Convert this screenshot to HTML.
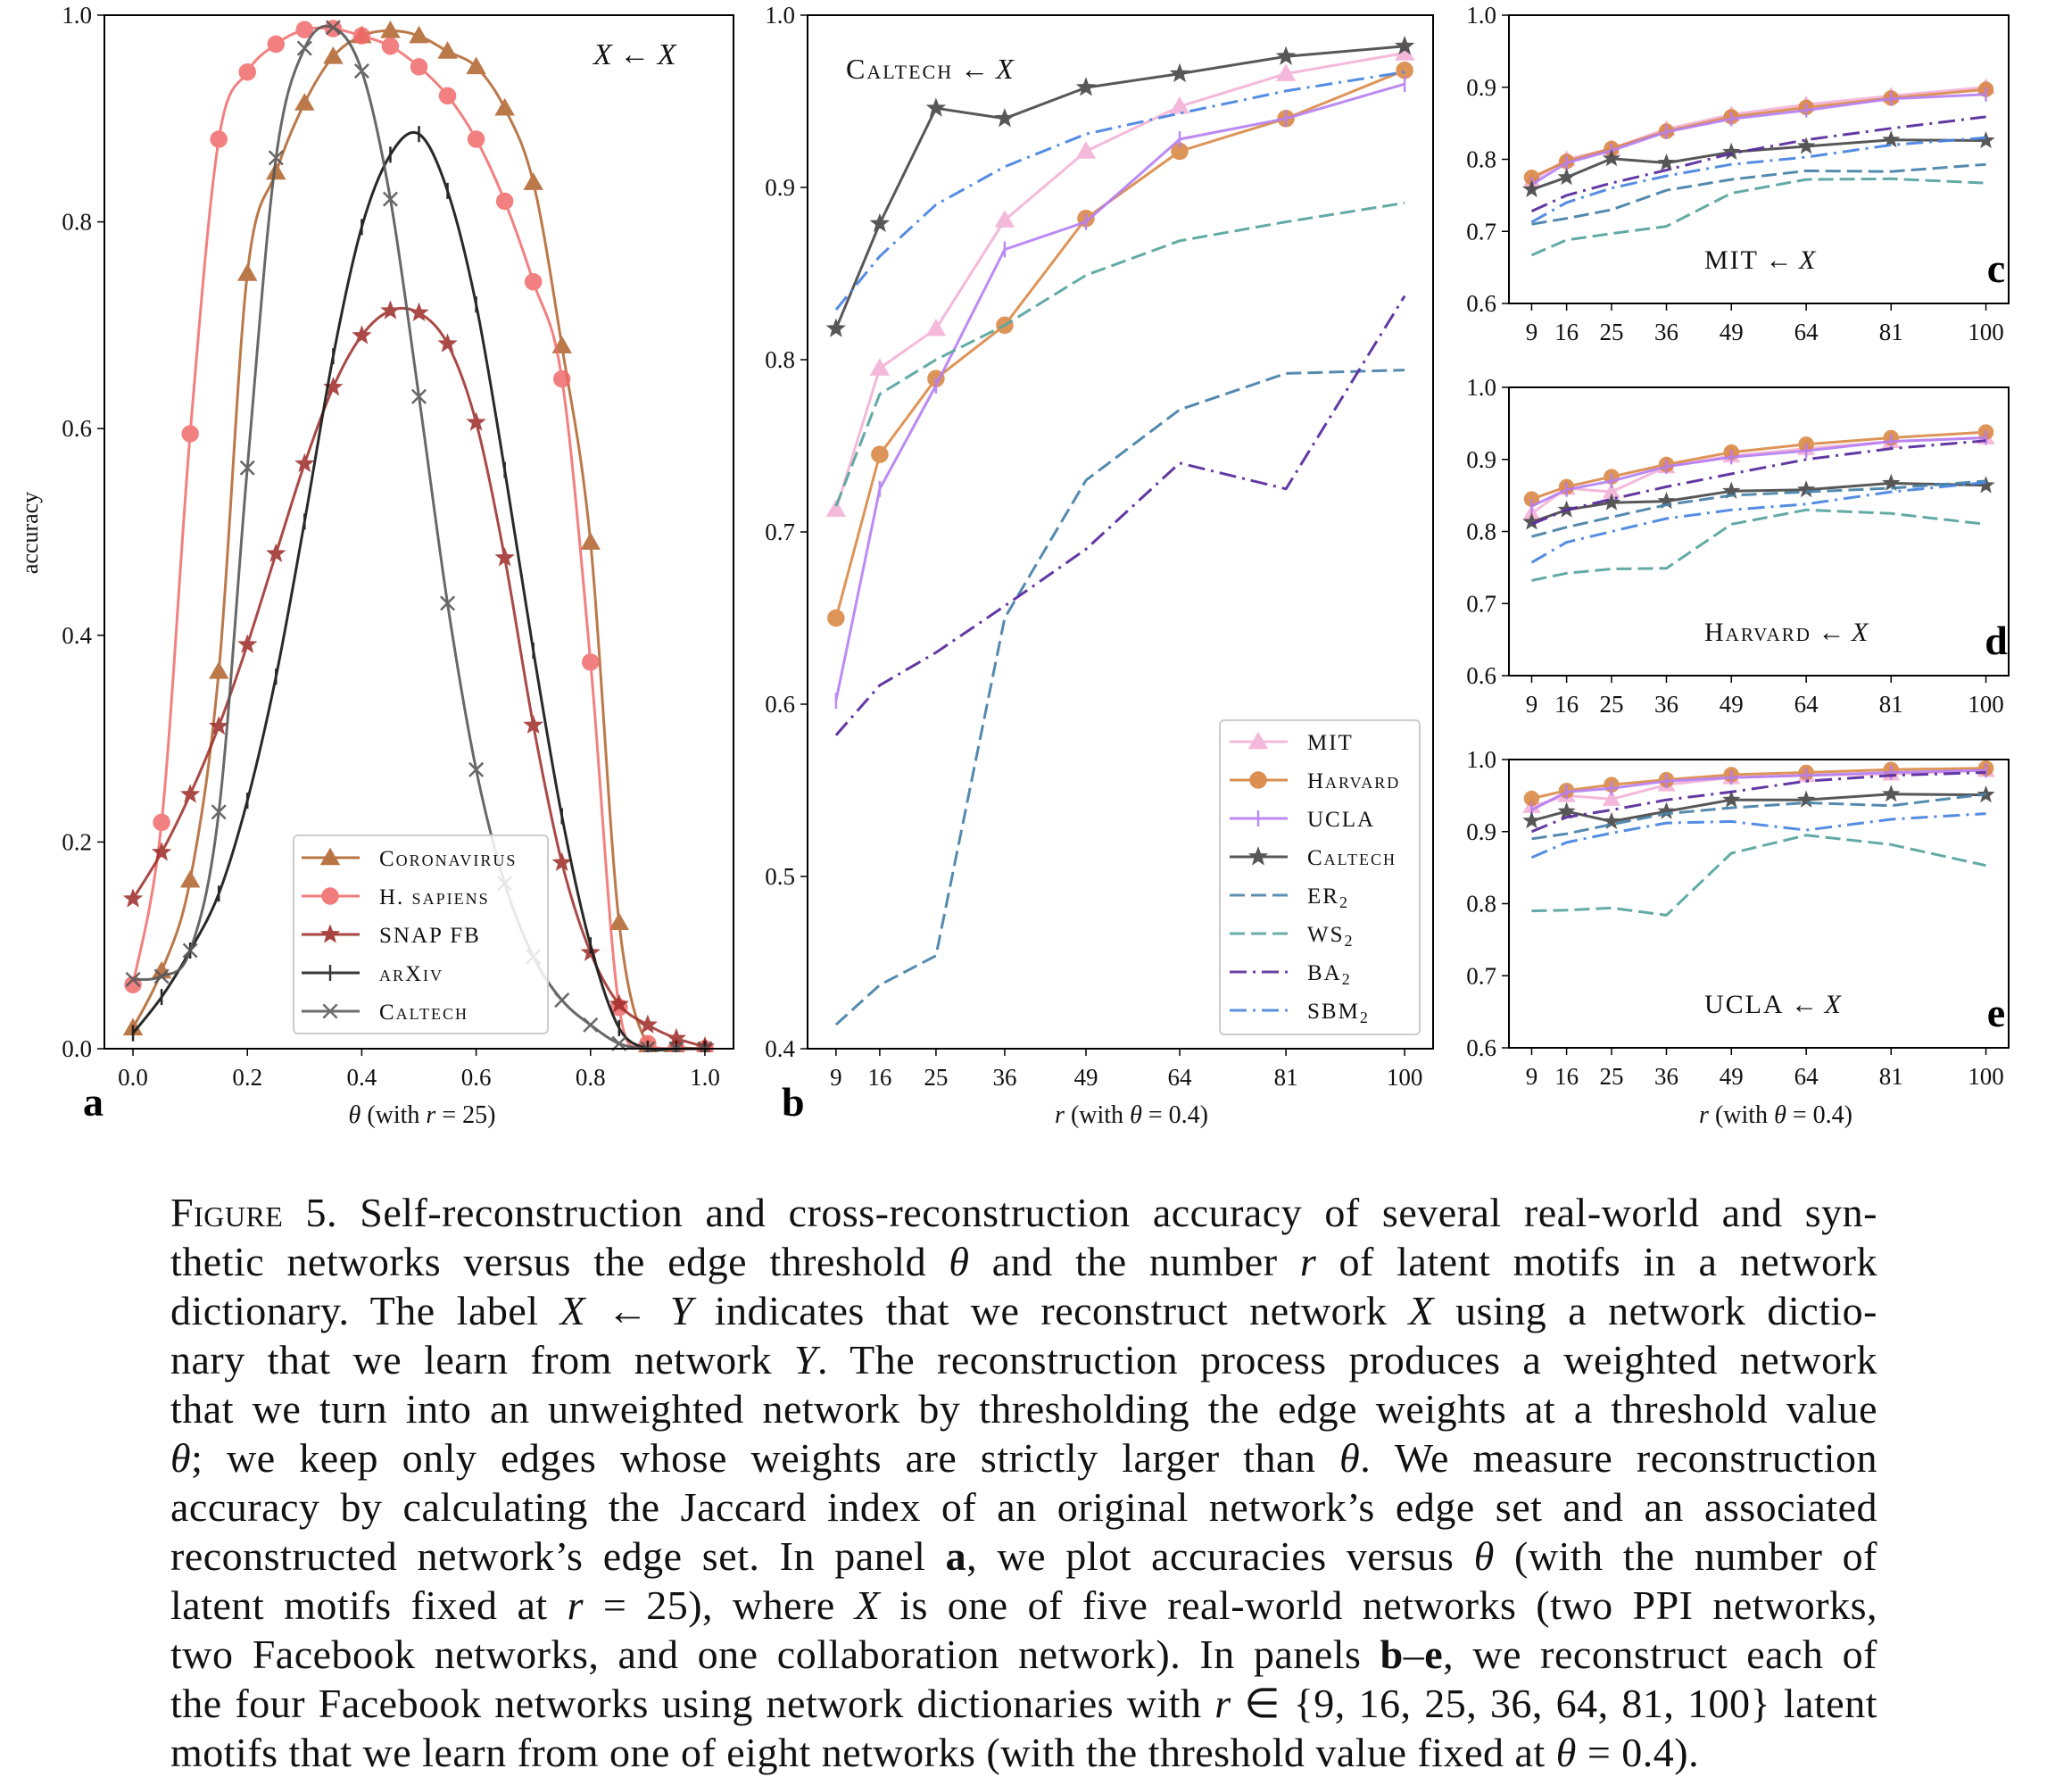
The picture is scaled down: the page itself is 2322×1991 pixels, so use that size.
<!DOCTYPE html>
<html><head><meta charset="utf-8">
<style>
html,body{margin:0;padding:0;background:#fff;}
body{width:2322px;height:1968px;position:relative;overflow:hidden;}
#caption{position:absolute;left:191px;top:1331px;width:1913px;font-family:"Liberation Serif",serif;font-size:46px;letter-spacing:0.5px;line-height:55px;color:#111;}
#caption .ln{text-align:justify;text-align-last:justify;white-space:normal;height:55px;overflow:hidden;}
#caption .ln.last{text-align-last:left;}
.sc{font-variant:small-caps;}
</style></head>
<body>
<svg id="fig" width="2322" height="1330" xmlns="http://www.w3.org/2000/svg" style="position:absolute;left:0;top:0;font-family:'Liberation Serif',serif;"></svg>
<div id="caption">
<div class="ln"><span class="sc">Figure 5.</span> Self-reconstruction and cross-reconstruction accuracy of several real-world and syn-</div>
<div class="ln">thetic networks versus the edge threshold <i>θ</i> and the number <i>r</i> of latent motifs in a network</div>
<div class="ln">dictionary. The label <i>X</i> ← <i>Y</i> indicates that we reconstruct network <i>X</i> using a network dictio-</div>
<div class="ln">nary that we learn from network <i>Y</i>. The reconstruction process produces a weighted network</div>
<div class="ln">that we turn into an unweighted network by thresholding the edge weights at a threshold value</div>
<div class="ln"><i>θ</i>; we keep only edges whose weights are strictly larger than <i>θ</i>. We measure reconstruction</div>
<div class="ln">accuracy by calculating the Jaccard index of an original network’s edge set and an associated</div>
<div class="ln">reconstructed network’s edge set. In panel <b>a</b>, we plot accuracies versus <i>θ</i> (with the number of</div>
<div class="ln">latent motifs fixed at <i>r</i> = 25), where <i>X</i> is one of five real-world networks (two PPI networks,</div>
<div class="ln">two Facebook networks, and one collaboration network). In panels <b>b</b>–<b>e</b>, we reconstruct each of</div>
<div class="ln">the four Facebook networks using network dictionaries with <i>r</i> ∈ {9, 16, 25, 36, 64, 81, 100} latent</div>
<div class="ln last">motifs that we learn from one of eight networks (with the threshold value fixed at <i>θ</i> = 0.4).</div>
</div>
<script>
// ---------- data ----------
const thetaValues = [0,0.05,0.1,0.15,0.2,0.25,0.3,0.35,0.4,0.45,0.5,0.55,0.6,0.65,0.7,0.75,0.8,0.85,0.9,0.95,1.0];
const coronavirusAcc = [0.02,0.075,0.163,0.365,0.75,0.848,0.915,0.96,0.98,0.985,0.98,0.965,0.95,0.91,0.838,0.68,0.49,0.122,0.003,0.001,0.0];
const hsapiensAcc = [0.062,0.219,0.595,0.88,0.945,0.972,0.986,0.987,0.98,0.97,0.95,0.922,0.88,0.82,0.742,0.648,0.374,0.04,0.005,0.0,0.0];
const snapfbAcc = [0.145,0.19,0.246,0.312,0.391,0.479,0.566,0.64,0.69,0.714,0.712,0.682,0.606,0.475,0.313,0.18,0.093,0.043,0.023,0.01,0.002];
const arxivAcc = [0.015,0.05,0.095,0.15,0.24,0.36,0.51,0.67,0.795,0.865,0.885,0.83,0.72,0.56,0.385,0.225,0.1,0.02,0.0,0.0,0.0];
const caltechSelfAcc = [0.067,0.07,0.095,0.229,0.562,0.862,0.968,0.988,0.946,0.822,0.631,0.431,0.27,0.16,0.089,0.047,0.023,0.005,0.0,0.0,0.0];
const thetaTicks = [0,0.2,0.4,0.6,0.8,1.0];
const thetaTickLabels = ["0.0","0.2","0.4","0.6","0.8","1.0"];
const accTicksA = [0,0.2,0.4,0.6,0.8,1.0];
const accTickLabelsA = ["0.0","0.2","0.4","0.6","0.8","1.0"];

const rValues = [9,16,25,36,49,64,81,100];
const rTickLabels = ["9","16","25","36","49","64","81","100"];
const accTicksB = [0.4,0.5,0.6,0.7,0.8,0.9,1.0];
const accTickLabelsB = ["0.4","0.5","0.6","0.7","0.8","0.9","1.0"];
const accTicksCDE = [0.6,0.7,0.8,0.9,1.0];
const accTickLabelsCDE = ["0.6","0.7","0.8","0.9","1.0"];

// panel b: Caltech <- X
const bMIT = [0.713,0.795,0.818,0.881,0.921,0.947,0.966,0.978];
const bHarvard = [0.65,0.745,0.789,0.82,0.882,0.921,0.94,0.968];
const bUCLA = [0.602,0.725,0.785,0.864,0.88,0.928,0.94,0.96];
const bCaltech = [0.818,0.879,0.946,0.94,0.958,0.966,0.976,0.982];
const bER2 = [0.414,0.437,0.454,0.65,0.73,0.771,0.792,0.794];
const bWS2 = [0.715,0.78,0.80,0.82,0.849,0.869,0.88,0.891];
const bBA2 = [0.582,0.611,0.63,0.657,0.69,0.74,0.725,0.837];
const bSBM2 = [0.829,0.86,0.89,0.912,0.931,0.943,0.956,0.967];
// panel c: MIT <- X
const cMIT = [0.77,0.80,0.815,0.842,0.862,0.876,0.888,0.90];
const cHarvard = [0.775,0.797,0.815,0.839,0.859,0.872,0.885,0.897];
const cUCLA = [0.765,0.795,0.812,0.838,0.856,0.868,0.884,0.89];
const cCaltech = [0.758,0.775,0.801,0.795,0.81,0.818,0.827,0.826];
const cER2 = [0.71,0.718,0.73,0.757,0.772,0.784,0.783,0.793];
const cWS2 = [0.667,0.688,0.697,0.707,0.753,0.772,0.773,0.767];
const cBA2 = [0.728,0.75,0.767,0.785,0.808,0.827,0.843,0.859];
const cSBM2 = [0.713,0.74,0.76,0.777,0.793,0.803,0.82,0.83];
// panel d: Harvard <- X
const dMIT = [0.825,0.86,0.855,0.89,0.905,0.915,0.925,0.93];
const dHarvard = [0.845,0.862,0.876,0.893,0.91,0.921,0.93,0.938];
const dUCLA = [0.835,0.858,0.87,0.89,0.903,0.912,0.925,0.93];
const dCaltech = [0.813,0.83,0.84,0.842,0.856,0.858,0.867,0.864];
const dER2 = [0.793,0.806,0.82,0.837,0.85,0.855,0.86,0.87];
const dWS2 = [0.732,0.742,0.748,0.749,0.81,0.83,0.825,0.81];
const dBA2 = [0.81,0.83,0.845,0.862,0.88,0.9,0.915,0.926];
const dSBM2 = [0.757,0.785,0.8,0.818,0.83,0.838,0.855,0.868];
// panel e: UCLA <- X
const eMIT = [0.935,0.95,0.945,0.965,0.975,0.978,0.98,0.985];
const eHarvard = [0.946,0.957,0.965,0.972,0.979,0.982,0.986,0.988];
const eUCLA = [0.93,0.955,0.96,0.97,0.975,0.978,0.982,0.985];
const eCaltech = [0.915,0.928,0.914,0.928,0.944,0.944,0.952,0.951];
const eER2 = [0.89,0.897,0.91,0.925,0.933,0.94,0.936,0.952];
const eWS2 = [0.79,0.791,0.794,0.784,0.87,0.895,0.882,0.853];
const eBA2 = [0.9,0.92,0.93,0.944,0.955,0.97,0.978,0.982];
const eSBM2 = [0.864,0.885,0.898,0.912,0.914,0.902,0.917,0.925];

// ---------- drawing ----------
const NS = "http://www.w3.org/2000/svg";
const svg = document.getElementById('fig');
function el(tag, parent){ const e = document.createElementNS(NS, tag); (parent||svg).appendChild(e); return e; }
function setA(e, o){ for (const k in o) e.setAttribute(k, o[k]); return e; }
function scale(d0,d1,r0,r1){ return v => r0 + (v-d0)/(d1-d0)*(r1-r0); }

const C = {
  corona:'#b0612a', hsap:'#f06a6a', snap:'#9c2a26', arxiv:'#1e1e1e', caltechA:'#585858',
  mit:'#f3b2d6', harvard:'#d8823c', ucla:'#b57ef3', caltech:'#454545',
  er:'#4a84aa', ws:'#5aa5a0', ba:'#5a2d9e', sbm:'#4a86e0'
};

function marker(g, type, x, y, color, size){
  let m;
  if (type==='tri'){
    const s=size*1.15;
    m = el('path', g); setA(m,{d:`M${x},${y-s} L${x+s},${y+s*0.75} L${x-s},${y+s*0.75}Z`, fill:color, stroke:color, 'stroke-width':1});
  } else if (type==='circle'){
    m = el('circle', g); setA(m,{cx:x, cy:y, r:size, fill:color, stroke:color, 'stroke-width':1.5});
  } else if (type==='star'){
    let d=''; const R=size*1.15, r=R*0.42;
    for (let i=0;i<10;i++){ const a=-Math.PI/2+i*Math.PI/5; const rr=i%2?r:R; d+=(i?'L':'M')+(x+rr*Math.cos(a)).toFixed(1)+','+(y+rr*Math.sin(a)).toFixed(1); }
    m = el('path', g); setA(m,{d:d+'Z', fill:color, stroke:color, 'stroke-width':1});
  } else if (type==='vline'){
    m = el('path', g); setA(m,{d:`M${x},${y-size} L${x},${y+size}`, stroke:color, 'stroke-width':2.5, fill:'none'});
  } else if (type==='x'){
    const s=size*0.85;
    m = el('path', g); setA(m,{d:`M${x-s},${y-s}L${x+s},${y+s}M${x-s},${y+s}L${x+s},${y-s}`, stroke:color, 'stroke-width':2.5, fill:'none'});
  }
  
  
}

function smoothPath(pts){
  let d = `M${pts[0][0]},${pts[0][1]}`;
  for (let i=0;i<pts.length-1;i++){
    const p0=pts[Math.max(0,i-1)], p1=pts[i], p2=pts[i+1], p3=pts[Math.min(pts.length-1,i+2)];
    const c1x=p1[0]+(p2[0]-p0[0])/6, c1y=p1[1]+(p2[1]-p0[1])/6;
    const c2x=p2[0]-(p3[0]-p1[0])/6, c2y=p2[1]-(p3[1]-p1[1])/6;
    d += ` C${c1x.toFixed(1)},${c1y.toFixed(1)} ${c2x.toFixed(1)},${c2y.toFixed(1)} ${p2[0].toFixed(1)},${p2[1].toFixed(1)}`;
  }
  return d;
}

function series(panel, name, xs, ys, opt){
  const g = el('g', panel.g);
  
  
  setA(g,{opacity: opt.alpha||1});
  const pts = xs.map((v,i)=>[panel.sx(v), panel.sy(ys[i])]);
  const p = el('path', g);
  setA(p,{d: opt.smooth ? smoothPath(pts) : 'M'+pts.map(q=>q[0].toFixed(1)+','+q[1].toFixed(1)).join(' L'),
    fill:'none', stroke:opt.color, 'stroke-width':opt.lw||3, 'stroke-linejoin':'round'});
  if (opt.dash) p.setAttribute('stroke-dasharray', opt.dash);
  
  
  if (opt.marker) pts.forEach(q=>marker(g, opt.marker, q[0], q[1], opt.color, opt.ms||9));
}

function makePanel(name, x0,x1,y0,y1, xd, yd, xt, xtl, yt, ytl){
  const g = el('g');
  
  
  const P = {g, x0,x1,y0,y1, sx: scale(xd[0],xd[1],x0,x1), sy: scale(yd[0],yd[1],y1,y0)};
  const clip = el('clipPath', g); clip.id = name+'-clip';
  setA(el('rect', clip),{x:x0,y:y0-4,width:x1-x0,height:y1-y0+8});
  P.plot = el('g', g); P.plot.setAttribute('clip-path', `url(#${name}-clip)`);
  
  
  xt.forEach((v,i)=>{
    const x=P.sx(v);
    setA(el('line', g),{x1:x,x2:x,y1:y1,y2:y1+8,stroke:'#000','stroke-width':1.5});
    const t = el('text', g); setA(t,{x:x,y:y1+41,'text-anchor':'middle','font-size':27,fill:'#111'});
    t.textContent = xtl[i];
    
    
  });
  yt.forEach((v,i)=>{
    const y=P.sy(v);
    setA(el('line', g),{x1:x0-8,x2:x0,y1:y,y2:y,stroke:'#000','stroke-width':1.5});
    const t = el('text', g); setA(t,{x:x0-14,y:y+9,'text-anchor':'end','font-size':27,fill:'#111'});
    t.textContent = ytl[i];
    
    
  });
  const frame = el('rect', g); setA(frame,{x:x0,y:y0,width:x1-x0,height:y1-y0,fill:'none',stroke:'#000','stroke-width':2});
  
  
  P.g = P.plot;
  P.outer = g;
  return P;
}

function text(parent, x, y, str, attrs, name){
  const t = el('text', parent); setA(t, attrs); setA(t,{x, y}); t.innerHTML = str;
  
  
  return t;
}

// ---- Panel a ----
const A = makePanel('panel-a', 117,822,17,1175, [-0.05,1.05],[0,1], thetaTicks, thetaTickLabels, accTicksA, accTickLabelsA);
series(A,'coronavirus-series', thetaValues, coronavirusAcc, {color:C.corona, marker:'tri', smooth:true, alpha:0.85});
series(A,'hsapiens-series', thetaValues, hsapiensAcc, {color:C.hsap, marker:'circle', smooth:true, alpha:0.85});
series(A,'snapfb-series', thetaValues, snapfbAcc, {color:C.snap, marker:'star', smooth:true, alpha:0.85});
series(A,'arxiv-series', thetaValues, arxivAcc, {color:C.arxiv, marker:'vline', smooth:true, alpha:0.95});
series(A,'caltech-self-series', thetaValues, caltechSelfAcc, {color:C.caltechA, marker:'x', smooth:true, alpha:0.9});
text(A.outer, 665, 72, '<tspan font-style="italic">X</tspan> ← <tspan font-style="italic">X</tspan>', {'font-size':34,fill:'#111'}, 'panel-a-annotation');
text(A.outer, 93, 1250, 'a', {'font-size':46,'font-weight':'bold',fill:'#000'}, 'panel-a-letter');
text(A.outer, 473, 1258, '<tspan font-style="italic">θ</tspan>  (with <tspan font-style="italic">r</tspan> = 25)', {'font-size':28,'text-anchor':'middle',fill:'#111'}, 'panel-a-x-axis-title');
text(A.outer, 42, 597, 'accuracy', {'font-size':26,'text-anchor':'middle',fill:'#111',transform:'rotate(-90 42 597)'}, 'panel-a-y-axis-title');

// legend a
{
  const lg = el('g', A.outer);
  
  
  setA(el('rect', lg),{x:329,y:936,width:285,height:222,rx:5,fill:'#fff','fill-opacity':0.85,stroke:'#ccc','stroke-width':2});
  const items = [['Coronavirus',C.corona,'tri'],['H. sapiens',C.hsap,'circle'],['SNAP FB',C.snap,'star'],['arXiv',C.arxiv,'vline'],['Caltech',C.caltechA,'x']];
  items.forEach((it,i)=>{
    const y = 961 + i*43;
    const g = el('g', lg);
    
    
    setA(g,{opacity:0.88});
    setA(el('line', g),{x1:338,x2:403,y1:y,y2:y,stroke:it[1],'stroke-width':3});
    marker(g, it[2], 370, y, it[1], 9);
    const t = el('text', lg); setA(t,{x:425,y:y+9,'font-size':25,'font-variant':'small-caps','letter-spacing':2,fill:'#111'});
    t.textContent = it[0];
    
    
  });
}

// ---- Panels b-e ----
const rDom = [4.45,104.55];
const DASH='17,7', DASHDOT='19,7,3,7';
function drawR(P, d){
  series(P,'mit-series', rValues, d.mit, {color:C.mit, marker:'tri', alpha:0.9, ms:P.ms});
  series(P,'harvard-series', rValues, d.harvard, {color:C.harvard, marker:'circle', alpha:0.85, ms:P.ms});
  series(P,'ucla-series', rValues, d.ucla, {color:C.ucla, marker:'vline', alpha:0.9, ms:P.ms});
  series(P,'caltech-series', rValues, d.caltech, {color:C.caltech, marker:'star', alpha:0.9, ms:P.ms});
  series(P,'er2-series', rValues, d.er, {color:C.er, dash:DASH, alpha:0.95});
  series(P,'ws2-series', rValues, d.ws, {color:C.ws, dash:DASH, alpha:0.95});
  series(P,'ba2-series', rValues, d.ba, {color:C.ba, dash:DASHDOT, alpha:0.95});
  series(P,'sbm2-series', rValues, d.sbm, {color:C.sbm, dash:DASHDOT, alpha:0.95});
}
const B = makePanel('panel-b', 905,1606,17,1175, rDom,[0.4,1.0], rValues, rTickLabels, accTicksB, accTickLabelsB);
B.ms = 9;
drawR(B,{mit:bMIT,harvard:bHarvard,ucla:bUCLA,caltech:bCaltech,er:bER2,ws:bWS2,ba:bBA2,sbm:bSBM2});
text(B.outer, 948, 88, '<tspan font-variant="small-caps" letter-spacing="2">Caltech</tspan> ← <tspan font-style="italic">X</tspan>', {'font-size':32,fill:'#111'}, 'panel-b-annotation');
text(B.outer, 876, 1250, 'b', {'font-size':46,'font-weight':'bold',fill:'#000'}, 'panel-b-letter');
text(B.outer, 1268, 1258, '<tspan font-style="italic">r</tspan>  (with <tspan font-style="italic">θ</tspan> = 0.4)', {'font-size':28,'text-anchor':'middle',fill:'#111'}, 'panel-b-x-axis-title');
{
  const lg = el('g', B.outer);
  
  
  setA(el('rect', lg),{x:1367,y:807,width:224,height:352,rx:5,fill:'#fff','fill-opacity':0.85,stroke:'#ccc','stroke-width':2});
  const items = [['MIT',C.mit,'tri',null],['Harvard',C.harvard,'circle',null],['UCLA',C.ucla,'vline',null],['Caltech',C.caltech,'star',null],
    ['ER<tspan font-size="18" dy="5">2</tspan>',C.er,null,DASH],['WS<tspan font-size="18" dy="5">2</tspan>',C.ws,null,DASH],
    ['BA<tspan font-size="18" dy="5">2</tspan>',C.ba,null,DASHDOT],['SBM<tspan font-size="18" dy="5">2</tspan>',C.sbm,null,DASHDOT]];
  items.forEach((it,i)=>{
    const y = 831 + i*43;
    const g = el('g', lg);
    
    
    setA(g,{opacity:0.9});
    const ln = el('line', g); setA(ln,{x1:1378,x2:1443,y1:y,y2:y,stroke:it[1],'stroke-width':3});
    if (it[3]) ln.setAttribute('stroke-dasharray', it[3]);
    if (it[2]) marker(g, it[2], 1410, y, it[1], 9);
    const t = el('text', lg); setA(t,{x:1465,y:y+9,'font-size':25,'font-variant':'small-caps','letter-spacing':2,fill:'#111'});
    t.innerHTML = it[0];
    
    
  });
}

const Cp = makePanel('panel-c', 1691,2251,17,340, rDom,[0.6,1.0], rValues, rTickLabels, accTicksCDE, accTickLabelsCDE);
Cp.ms = 8;
drawR(Cp,{mit:cMIT,harvard:cHarvard,ucla:cUCLA,caltech:cCaltech,er:cER2,ws:cWS2,ba:cBA2,sbm:cSBM2});
text(Cp.outer, 1910, 301, '<tspan font-variant="small-caps" letter-spacing="2">MIT</tspan> ← <tspan font-style="italic">X</tspan>', {'font-size':30,fill:'#111'}, 'panel-c-annotation');
text(Cp.outer, 2237, 316, 'c', {'font-size':46,'font-weight':'bold','text-anchor':'middle',fill:'#000'}, 'panel-c-letter');

const Dp = makePanel('panel-d', 1691,2251,434,757, rDom,[0.6,1.0], rValues, rTickLabels, accTicksCDE, accTickLabelsCDE);
Dp.ms = 8;
drawR(Dp,{mit:dMIT,harvard:dHarvard,ucla:dUCLA,caltech:dCaltech,er:dER2,ws:dWS2,ba:dBA2,sbm:dSBM2});
text(Dp.outer, 1910, 718, '<tspan font-variant="small-caps" letter-spacing="2">Harvard</tspan> ← <tspan font-style="italic">X</tspan>', {'font-size':30,fill:'#111'}, 'panel-d-annotation');
text(Dp.outer, 2237, 733, 'd', {'font-size':46,'font-weight':'bold','text-anchor':'middle',fill:'#000'}, 'panel-d-letter');

const Ep = makePanel('panel-e', 1691,2251,851,1174, rDom,[0.6,1.0], rValues, rTickLabels, accTicksCDE, accTickLabelsCDE);
Ep.ms = 8;
drawR(Ep,{mit:eMIT,harvard:eHarvard,ucla:eUCLA,caltech:eCaltech,er:eER2,ws:eWS2,ba:eBA2,sbm:eSBM2});
text(Ep.outer, 1910, 1135, '<tspan font-variant="small-caps" letter-spacing="2">UCLA</tspan> ← <tspan font-style="italic">X</tspan>', {'font-size':30,fill:'#111'}, 'panel-e-annotation');
text(Ep.outer, 2237, 1150, 'e', {'font-size':46,'font-weight':'bold','text-anchor':'middle',fill:'#000'}, 'panel-e-letter');
text(Ep.outer, 1990, 1258, '<tspan font-style="italic">r</tspan>  (with <tspan font-style="italic">θ</tspan> = 0.4)', {'font-size':28,'text-anchor':'middle',fill:'#111'}, 'panel-e-x-axis-title');
</script>
</body></html>
